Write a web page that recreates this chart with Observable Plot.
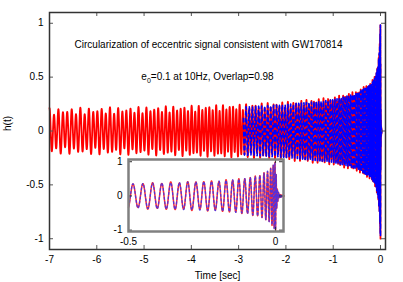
<!DOCTYPE html>
<html><head><meta charset="utf-8">
<script src="https://cdn.jsdelivr.net/npm/d3@7"></script>
<script src="https://cdn.jsdelivr.net/npm/@observablehq/plot@0.6"></script>
<style>
body{margin:0;background:#fff}
#wrap{position:relative;width:403px;height:282px}
#inset{position:absolute;left:104px;top:154px}
</style>
</head><body>
<div id="wrap"><div id="main"></div><div id="inset"></div></div>
<script>
// ---- values ----
// envelope of h(t) (amplitude) at given times [sec]
const envT = [-7, -5, -3, -2, -1, -0.5, -0.2, -0.1, -0.05, -0.02, -0.01, -0.004, 0, 0.003, 0.006, 0.012, 0.03];
const envA = [0.18, 0.195, 0.22, 0.245, 0.29, 0.35, 0.43, 0.51, 0.61, 0.76, 0.87, 0.97, 1.0, 0.45, 0.2, 0.05, 0];
// gravitational-wave frequency [Hz] at given times
const freqT = [-7, -5, -3, -2, -1, -0.5, -0.2, -0.1, -0.05, -0.02, -0.01, -0.004, 0, 0.03];
const freqHz = [10.5, 11.9, 14.4, 16.8, 21.1, 28.2, 39.3, 51.8, 67.6, 94.7, 123, 170, 250, 280];
// eccentricity of the red (eccentric) signal
const eccT = [-7, -5, -3, -2, -1, -0.5, -0.2, 0];
const eccE = [0.1, 0.085, 0.068, 0.058, 0.045, 0.034, 0.024, 0.01];
const blueStart = -2.9;
const xTicks = [-7, -6, -5, -4, -3, -2, -1, 0];
const yTicks = [-1, -0.5, 0, 0.5, 1];
const insetXTicks = [-0.5, 0];
const insetYTicks = [-1, 0, 1];
const titleLine1 = "Circularization of eccentric signal consistent with GW170814";
const titleLine2 = "e0=0.1 at 10Hz, Overlap=0.98";

// ---- build the waveform from the read envelope / frequency ----
const lin = (xs, ys) => d3.scaleLinear().domain(xs).range(ys).clamp(true);
const A = lin(envT, envA), F = lin(freqT, freqHz), E = lin(eccT, eccE);
const red = [], blue = [];
let phi = 0;
for (let t = -7; t <= 0.03; ) {
  const dt = t < -0.6 ? 0.0008 : 0.00008;
  const a = A(t), e = E(t);
  const hb = a * Math.cos(phi);
  const hr = a * (Math.cos(phi) + 1.8 * e * Math.cos(0.57 * phi));
  red.push({t, h: hr});
  if (t >= blueStart) blue.push({t, h: hb});
  phi += 2 * Math.PI * F(t) * dt;
  t += dt;
}

const font = "'Liberation Sans', Arial, Helvetica, sans-serif";
const W = 403, H = 282, ML = 49, MR = 18, MT = 12, MB = 33;
const PW = W - ML - MR, PH = H - MT - MB;
const tickC = "#555";

const main = Plot.plot({
  width: W, height: H, marginLeft: ML, marginRight: MR, marginTop: MT, marginBottom: MB,
  x: {domain: [-7, 0.106]},
  y: {domain: [-1.1, 1.1]},
  style: {fontFamily: font, fontSize: "10px", color: "#000", background: "white"},
  marks: [
    Plot.line(red, {x: "t", y: "h", stroke: "#ff0000", strokeWidth: 1.8}),
    Plot.line(blue, {x: "t", y: "h", stroke: "#0000ff", strokeWidth: 1.6, strokeDasharray: "3.5,3.5"}),
    Plot.ruleX(xTicks, {x: d => d, insetTop: PH - 4, stroke: tickC}),
    Plot.ruleX(xTicks, {x: d => d, insetBottom: PH - 4, stroke: tickC}),
    Plot.ruleY(yTicks, {y: d => d, insetRight: PW - 4, stroke: tickC}),
    Plot.ruleY(yTicks, {y: d => d, insetLeft: PW - 4, stroke: tickC}),
    Plot.frame({stroke: "#333", strokeWidth: 1.5}),
    Plot.axisX(xTicks, {tickSize: 0, tickPadding: 6, tickFormat: d => String(d), label: null}),
    Plot.axisY(yTicks, {tickSize: 0, tickPadding: 6, tickFormat: d => String(d), label: null}),
    Plot.text(["Time [sec]"], {frameAnchor: "bottom", dy: 26, lineAnchor: "middle", fontSize: 10}),
    Plot.text(["h(t)"], {frameAnchor: "left", dx: -42, rotate: -90, fontSize: 10}),
    Plot.text([titleLine1], {frameAnchor: "top-left", dx: 159, dy: 32, textAnchor: "middle", lineAnchor: "middle", fontSize: 10}),
    Plot.text([titleLine2], {frameAnchor: "top-left", dx: 158, dy: 64, textAnchor: "middle", lineAnchor: "middle", fontSize: 10})
  ]
});
document.getElementById("main").appendChild(main);
// subscript 0 in e0
d3.select(main).selectAll("text").each(function() {
  if (this.textContent === titleLine2) {
    this.innerHTML = 'e<tspan dy="3" font-size="7">0</tspan><tspan dy="-3">' + titleLine2.slice(2) + '</tspan>';
  }
});

const iW = 184, iH = 93, iML = 24, iMR = 5, iMT = 5, iMB = 16;
const iPW = iW - iML - iMR, iPH = iH - iMT - iMB;
const redI = red.filter(d => d.t >= -0.5), blueI = blue.filter(d => d.t >= -0.5);
const inset = Plot.plot({
  width: iW, height: iH, marginLeft: iML, marginRight: iMR, marginTop: iMT, marginBottom: iMB,
  x: {domain: [-0.5, 0.027]},
  y: {domain: [-1.04, 1.065]},
  style: {fontFamily: font, fontSize: "10px", color: "#000", background: "transparent"},
  marks: [
    Plot.frame({fill: "white"}),
    Plot.line(redI, {x: "t", y: "h", stroke: "#ff3030", strokeWidth: 1.5}),
    Plot.line(blueI, {x: "t", y: "h", stroke: "#3030ff", strokeWidth: 1.3, strokeDasharray: "2,2.5", strokeOpacity: 0.8}),
    Plot.ruleX(insetXTicks, {x: d => d, insetTop: iPH - 4, stroke: "#333"}),
    Plot.ruleX(insetXTicks, {x: d => d, insetBottom: iPH - 4, stroke: "#333"}),
    Plot.ruleY(insetYTicks, {y: d => d, insetRight: iPW - 4, stroke: "#333"}),
    Plot.ruleY(insetYTicks, {y: d => d, insetLeft: iPW - 4, stroke: "#333"}),
    Plot.frame({stroke: "#808080", strokeWidth: 2.5}),
    Plot.axisX(insetXTicks, {tickSize: 0, tickPadding: 6, tickFormat: d => String(d), label: null}),
    Plot.axisY(insetYTicks, {tickSize: 0, tickPadding: 6, tickFormat: d => String(d), label: null})
  ]
});
document.getElementById("inset").appendChild(inset);
</script>
</body></html>
